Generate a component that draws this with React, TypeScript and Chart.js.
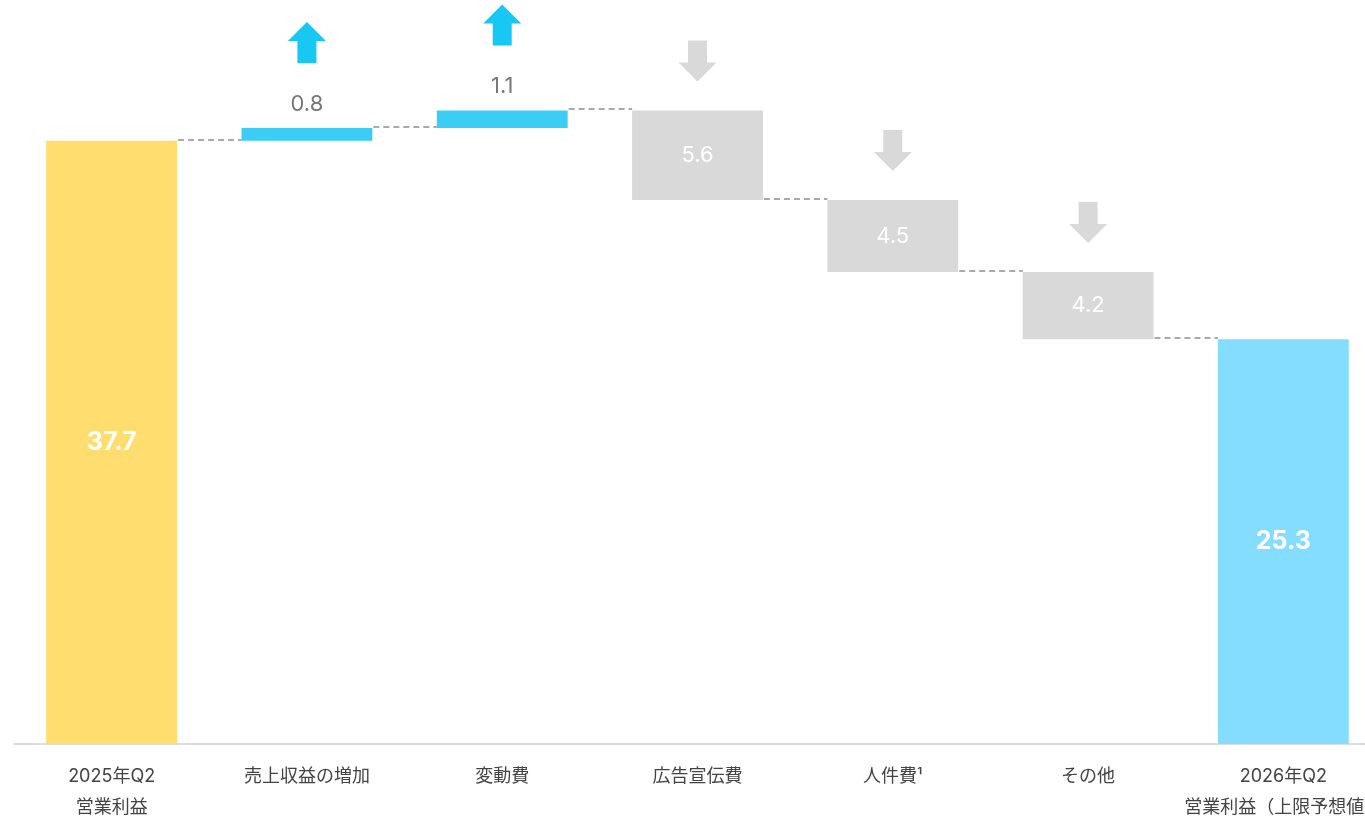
import React, { useEffect, useRef } from "react";
import { Chart, registerables } from "chart.js";

Chart.register(...registerables);

const categories: (string | string[])[] = [
  ["2025年Q2", "営業利益"],
  "売上収益の増加",
  "変動費",
  "広告宣伝費",
  "人件費¹",
  "その他",
  ["2026年Q2", "営業利益（上限予想値）"],
];
const changes = [37.7, 0.8, 1.1, -5.6, -4.5, -4.2, 25.3];
const valueLabels = ["37.7", "0.8", "1.1", "5.6", "4.5", "4.2", "25.3"];
const kinds = ["total", "up", "up", "down", "down", "down", "total"];
const barColors = ["#FFDD6E", "#3CCDF5", "#3CCDF5", "#D9D9D9", "#D9D9D9", "#D9D9D9", "#85DDFD"];
const yMax = 45;

const FONT = "Inter, 'Noto Sans CJK JP', sans-serif";

function buildRanges(): [number, number][] {
  const out: [number, number][] = [];
  let run = 0;
  changes.forEach((c, i) => {
    if (kinds[i] === "total") {
      out.push([0, c]);
      run = c;
    } else {
      out.push([run, +(run + c).toFixed(2)]);
      run = +(run + c).toFixed(2);
    }
  });
  return out;
}

const waterfallPlugin = {
  id: "waterfallDeco",
  afterDatasetsDraw(chart: any) {
    const ctx = chart.ctx;
    const meta = chart.getDatasetMeta(0);
    const yScale = chart.scales.y;
    const ranges = buildRanges();
    const bars = meta.data.map((el: any) => {
      const p = el.getProps(["x", "y", "base", "width"], true);
      return {
        x: p.x,
        w: p.width,
        top: Math.min(p.y, p.base),
        bottom: Math.max(p.y, p.base),
      };
    });
    ctx.save();
    // connectors
    ctx.strokeStyle = "#AAAAAA";
    ctx.lineWidth = 2;
    ctx.setLineDash([6, 4]);
    for (let i = 0; i < bars.length - 1; i++) {
      const level = ranges[i][1];
      const y = Math.round(yScale.getPixelForValue(level)) - 1;
      ctx.beginPath();
      ctx.moveTo(bars[i].x + bars[i].w / 2 + 1, y);
      ctx.lineTo(bars[i + 1].x - bars[i + 1].w / 2, y);
      ctx.stroke();
    }
    ctx.setLineDash([]);

    // labels and arrows
    ctx.textAlign = "center";
    ctx.textBaseline = "middle";
    bars.forEach((b: any, i: number) => {
      const k = kinds[i];
      if (k === "total") {
        ctx.fillStyle = "#FFFFFF";
        ctx.font = `bold 25px ${FONT}`;
        ctx.fillText(valueLabels[i], b.x, (b.top + b.bottom) / 2);
      } else if (k === "down") {
        ctx.fillStyle = "#FFFFFF";
        ctx.font = `22px ${FONT}`;
        ctx.fillText(valueLabels[i], b.x, (b.top + b.bottom) / 2);
        // down arrow
        const tip = b.top - 29;
        const topY = tip - 41;
        ctx.fillStyle = "#D9D9D9";
        ctx.beginPath();
        ctx.moveTo(b.x - 9.5, topY);
        ctx.lineTo(b.x + 9.5, topY);
        ctx.lineTo(b.x + 9.5, topY + 22);
        ctx.lineTo(b.x + 19, topY + 22);
        ctx.lineTo(b.x, tip);
        ctx.lineTo(b.x - 19, topY + 22);
        ctx.lineTo(b.x - 9.5, topY + 22);
        ctx.closePath();
        ctx.fill();
      } else {
        ctx.fillStyle = "#777777";
        ctx.font = `22px ${FONT}`;
        ctx.fillText(valueLabels[i], b.x, b.top - 24);
        // up arrow
        const bottom = b.top - 65;
        const tip = bottom - 41;
        ctx.fillStyle = "#18C8F3";
        ctx.beginPath();
        ctx.moveTo(b.x - 9.5, bottom);
        ctx.lineTo(b.x + 9.5, bottom);
        ctx.lineTo(b.x + 9.5, bottom - 22);
        ctx.lineTo(b.x + 19, bottom - 22);
        ctx.lineTo(b.x, tip);
        ctx.lineTo(b.x - 19, bottom - 22);
        ctx.lineTo(b.x - 9.5, bottom - 22);
        ctx.closePath();
        ctx.fill();
      }
    });
    ctx.restore();
  },
};

export default function App() {
  const ref = useRef<HTMLCanvasElement | null>(null);
  useEffect(() => {
    if (!ref.current) return;
    const chart = new Chart(ref.current, {
      type: "bar",
      data: {
        labels: categories as any,
        datasets: [
          {
            data: buildRanges() as any,
            backgroundColor: barColors,
            borderWidth: 0,
            borderSkipped: false,
            categoryPercentage: 1,
            barPercentage: 0.67,
          },
        ],
      },
      options: {
        responsive: false,
        animation: false,
        devicePixelRatio: 1,
        layout: { padding: { left: 14, right: 30, top: 24, bottom: 7 } },
        plugins: {
          legend: { display: false },
          tooltip: { enabled: false },
        },
        scales: {
          x: {
            grid: { display: false, drawTicks: false },
            border: { display: true, color: "#DDDDDD", width: 2 },
            ticks: {
              color: "#444444",
              padding: 17,
              autoSkip: false,
              maxRotation: 0,
              font: { family: FONT, size: 18, lineHeight: 31 / 18 },
            },
          },
          y: {
            display: false,
            min: 0,
            max: yMax,
          },
        },
      },
      plugins: [waterfallPlugin],
    });
    return () => chart.destroy();
  }, []);
  return (
    <div
      style={{
        position: "fixed",
        left: 0,
        top: 0,
        width: 1365,
        height: 819,
        overflow: "hidden",
        background: "#FFFFFF",
      }}
    >
      <canvas ref={ref} width={1411} height={847} style={{ display: "block" }} />
    </div>
  );
}
